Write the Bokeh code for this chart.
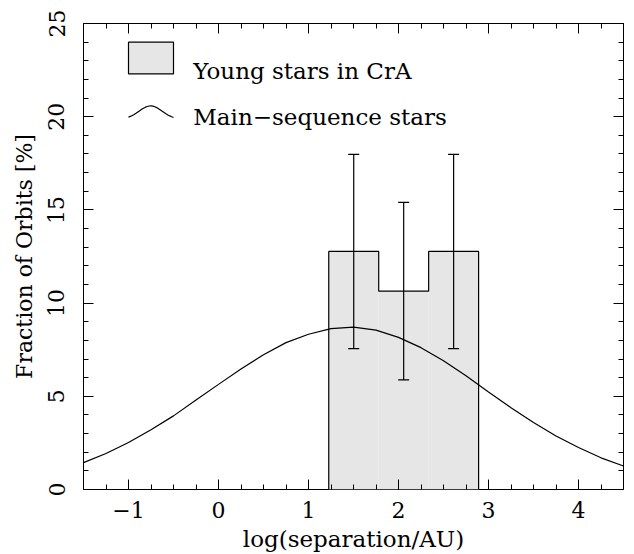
from bokeh.plotting import figure
from bokeh.models import (LinearAxis, Range1d, Whisker, ColumnDataSource,
                          SingleIntervalTicker, TeeHead, Label, BoxAnnotation,
                          CustomJSTickFormatter)
from bokeh.embed import file_html
from bokeh.resources import INLINE

# ---- data ----
bin_edges = [1.225, 1.78, 2.335, 2.89]          # log(separation/AU)
young_frac = [12.77, 10.64, 12.77]              # fraction of orbits [%]
err_upper = [17.98, 15.40, 17.98]
err_lower = [7.56, 5.88, 7.56]

ms_logsep = [-1.5, -1.25, -1.0, -0.75, -0.5, -0.25, 0.0, 0.25, 0.5, 0.75,
             1.0, 1.25, 1.5, 1.75, 2.0, 2.25, 2.5, 2.75, 3.0, 3.25,
             3.5, 3.75, 4.0, 4.25, 4.5]
ms_frac = [1.44, 1.93, 2.52, 3.21, 3.95, 4.80, 5.64, 6.47, 7.23, 7.88,
           8.33, 8.63, 8.71, 8.55, 8.16, 7.61, 6.91, 6.10, 5.23, 4.39,
           3.59, 2.87, 2.25, 1.70, 1.26]

x_ticks_major = 1
y_ticks_major = 5

FONT = "DejaVu Serif"
FS = "22px"
FS_BIG = "23px"
FILL = "#e6e6e6"

p = figure(width=634, height=554, x_range=Range1d(-1.5, 4.5), y_range=Range1d(0, 25),
           output_backend="svg", toolbar_location=None,
           min_border_left=83, min_border_right=11, min_border_top=23, min_border_bottom=10)
p.xgrid.grid_line_color = None
p.ygrid.grid_line_color = None
p.outline_line_color = "black"
p.outline_line_width = 1
p.background_fill_color = "white"
p.border_fill_color = "white"

def style(ax, ticker, labels=True):
    ax.ticker = ticker
    ax.axis_line_color = None
    ax.major_tick_in = 10
    ax.major_tick_out = 0
    ax.minor_tick_in = 5
    ax.minor_tick_out = 0
    ax.major_tick_line_color = "black"
    ax.minor_tick_line_color = "black"
    ax.major_label_text_font = FONT
    ax.major_label_text_color = "black"
    ax.major_label_text_font_size = FS
    ax.axis_label_text_font = FONT
    ax.axis_label_text_font_style = "normal"
    ax.axis_label_text_color = "black"
    ax.axis_label_text_font_size = FS
    if not labels:
        ax.formatter = CustomJSTickFormatter(code="return ''")
        ax.major_label_standoff = 0

xa = p.xaxis[0]
ya = p.yaxis[0]
style(xa, SingleIntervalTicker(interval=x_ticks_major, num_minor_ticks=4))
style(ya, SingleIntervalTicker(interval=y_ticks_major, num_minor_ticks=5))
xa.axis_label = "log(separation/AU)"
xa.axis_label_text_font_size = FS_BIG
ya.axis_label = "Fraction of Orbits [%]"
xa.major_label_standoff = 12
xa.axis_label_standoff = 5
ya.major_label_orientation = "vertical"
ya.major_label_standoff = 19
ya.axis_label_standoff = 9

top = LinearAxis()
style(top, SingleIntervalTicker(interval=x_ticks_major, num_minor_ticks=4), labels=False)
p.add_layout(top, "above")
right = LinearAxis()
style(right, SingleIntervalTicker(interval=y_ticks_major, num_minor_ticks=5), labels=False)
p.add_layout(right, "right")

# ---- histogram of young stars ----
src = ColumnDataSource(dict(left=bin_edges[:-1], right=bin_edges[1:], top=young_frac,
                            center=[(a + b) / 2 for a, b in zip(bin_edges[:-1], bin_edges[1:])],
                            upper=err_upper, lower=err_lower))
p.quad(left="left", right="right", bottom=0, top="top", source=src,
       fill_color=FILL, line_color=None)

# main-sequence curve
p.line(ms_logsep, ms_frac, line_color="black", line_width=1.2)

# histogram outline (step)
sx, sy = [bin_edges[0]], [0.0]
for i, h in enumerate(young_frac):
    sx += [bin_edges[i], bin_edges[i + 1]]
    sy += [h, h]
sx.append(bin_edges[-1]); sy.append(0.0)
p.line(sx, sy, line_color="black", line_width=1.2)

# error bars
w = Whisker(base="center", upper="upper", lower="lower", source=src,
            line_color="black", line_width=1.2, level="annotation",
            upper_head=TeeHead(size=11, line_color="black", line_width=1.2),
            lower_head=TeeHead(size=11, line_color="black", line_width=1.2))
p.add_layout(w)

# ---- legend (drawn by hand, like the original) ----
p.add_layout(BoxAnnotation(left=-1.0, right=-0.5, bottom=22.3, top=24.0,
                           fill_color=FILL, fill_alpha=1, line_color="black",
                           line_alpha=1, line_width=1.2))
lo, hi = min(ms_frac), max(ms_frac)
lx = [-1.0 + (x - ms_logsep[0]) / (ms_logsep[-1] - ms_logsep[0]) * 0.5 for x in ms_logsep]
ly = [19.96 + (y - lo) / (hi - lo) * 0.62 for y in ms_frac]
p.line(lx, ly, line_color="black", line_width=1.2)
p.add_layout(Label(x=-0.28, y=22.46, text="Young stars in CrA", text_font=FONT,
                   text_font_size=FS_BIG, text_color="black", text_baseline="alphabetic"))
p.add_layout(Label(x=-0.28, y=19.96, text="Main\u2212sequence stars", text_font=FONT,
                   text_font_size=FS_BIG, text_color="black", text_baseline="alphabetic"))

open("out.html", "w").write(file_html(p, INLINE))
